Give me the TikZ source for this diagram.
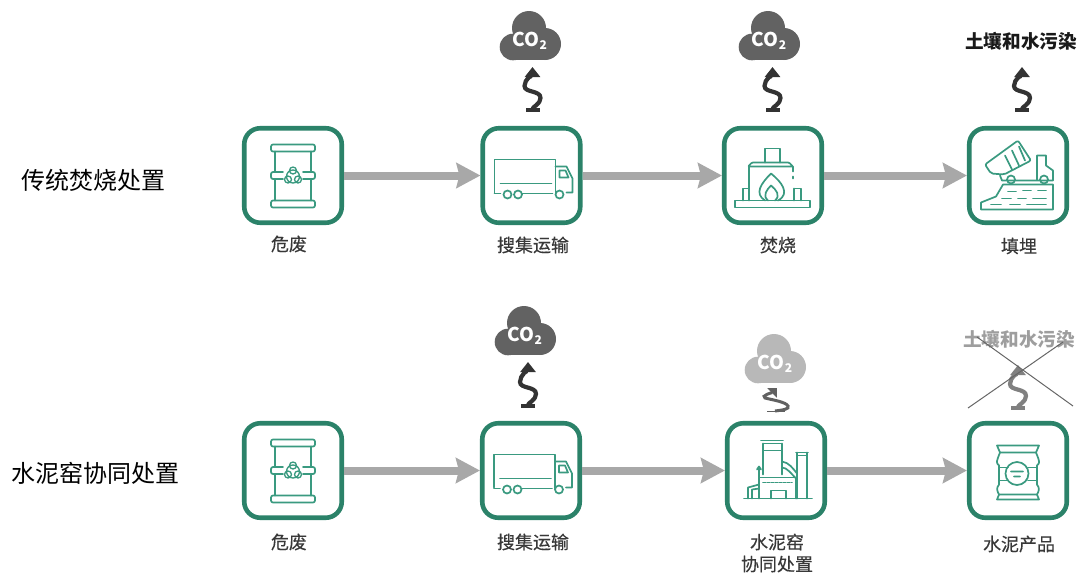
\documentclass[tikz,border=0pt]{standalone}
\usepackage{fontspec}
\setmainfont{Noto Sans CJK SC}
\newfontfamily\labelfont[FakeBold=0.35]{Noto Sans CJK SC}
\usetikzlibrary{arrows.meta}
\definecolor{boxgreen}{HTML}{2B8269}
\definecolor{icongreen}{HTML}{3A9A80}
\definecolor{flowgray}{HTML}{A8A8A8}
\definecolor{cloudgray}{HTML}{626262}
\definecolor{squiggray}{HTML}{333333}
\newcommand{\squiggle}[3][squig]{\draw [#1] (#2) .. controls +(0,-5) and +(0,6) .. ++(8,-14) .. controls +(0,-8) and +(0,7) .. ++(-16,-12) .. controls +(0,-7) and +(0,7) .. (#3);}
\tikzset{
	stepbox/.style={draw=boxgreen,line width=4.6pt,rounded corners=16pt,minimum width=97.5pt,minimum height=94.5pt,inner sep=0pt,fill=white},
	steplabel/.style={text=black!78,align=center,font=\labelfont\fontsize{18}{22}\selectfont},
	rowlabel/.style={text=black,font=\fontsize{24}{26}\selectfont},
	pollute/.style={font=\bfseries\fontsize{18.6}{20}\selectfont,text=black!90},
	flow/.style={draw=flowgray,line width=8pt,-{Stealth[length=24pt,width=25pt,inset=3pt]}},
	squig/.style={draw=squiggray,line width=4.2pt,{Bar[width=14pt,length=1.6pt]}-{Triangle[length=10pt,width=15pt]}},
	icon/.style={draw=icongreen,line width=1.7pt,line join=round,line cap=round,fill=none},
	cloud/.pic={
		\fill [pic actions] (-17,7) circle (13.3);
		\fill [pic actions] (-1,-12) circle (17);
		\fill [pic actions] (15,4) circle (16);
		\fill [pic actions] (-17,8) rectangle (15,20);
		\fill [pic actions] (-14,-6) rectangle (14,10);
		\node [text=white,font=\bfseries\fontsize{19}{20}\selectfont,inner sep=0pt] (-txt) at (0,1) {CO\raisebox{-2.5pt}{\fontsize{12}{12}\selectfont 2}};
	},
	drum/.pic={
		\draw [icon,rounded corners=2pt] (-22,-31) rectangle (22,-24);
		\draw [icon,rounded corners=2pt] (-22,25) rectangle (22,32);
		\draw [icon] (-18,-24) -- (-18,-3.5) (18,-24) -- (18,-3.5) (-18,3.5) -- (-18,25) (18,3.5) -- (18,25);
		\draw [icon,rounded corners=2pt] (-10,-3.5) -- (-22,-3.5) -- (-22,3.5) -- (-10,3.5) (10,-3.5) -- (22,-3.5) -- (22,3.5) -- (10,3.5);
		\draw [icon,line width=1.3pt] (0,-5) circle (3.5) (-5,4) circle (3.5) (5,4) circle (3.5) (0,1) circle (6.5);
	},
	truck/.pic={
		\draw [icon] (-37,17) -- (-37,-16) -- (24,-16) -- (24,18);
		\draw [icon] (-31,8) -- (20,8);
		\draw [icon] (-37,18) -- (-31,18) (-9,18) -- (21,18);
		\draw [icon] (24,-9) -- (35,-9) -- (41,3) -- (41,17) -- (35,17);
		\draw [icon] (28,-5) -- (34,-5) -- (37,2) -- (28,2) -- cycle;
		\draw [icon] (-24,19) circle (4) (-13.5,19) circle (4) (28,19) circle (4);
	},
	furnace/.pic={
		\draw [icon] (-8,-13) -- (-8,-27) -- (7,-27) -- (7,-13);
		\draw [icon,rounded corners=1pt] (-25,-9) -- (-21,-13) -- (16,-13) -- (20,-9) -- cycle;
		\draw [icon] (-24,-9) -- (-24,25) (20,-9) -- (20,-4) (20,1) -- (20,3);
		\draw [icon] (-38,25) rectangle (37,32);
		\draw [icon] (-30,25) -- (-30,13) -- (-25,13) (22,13) -- (28,13) -- (28,25) (21,25) -- (21,13);
		\draw [icon] (-8,25) .. controls (-19,18) and (-12,8) .. (-2,-2) .. controls (8,6) and (18,18) .. (5,25);
		\draw [icon] (-5,25) .. controls (-11,20) and (-6,14) .. (-2,10) .. controls (3,14) and (8,20) .. (2,25);
	},
	dumper/.pic={
		\draw [icon,rounded corners=2pt] (-33,-11) -- (0,-35) -- (13,-15) -- (-14,-1) -- (-27,-2) -- cycle;
		\draw [icon] (-13,-20) -- (-6,-6) (-6,-25) -- (1,-10) (1,-29) -- (7,-15);
		\draw [icon] (-18,0) -- (-16,5) -- (35,5) -- (35,-5) -- (28,-10) -- (28,-20) -- (19,-20) -- (19,4);
		\draw [icon] (-7,4) circle (4) (26,4) circle (4);
		\draw [icon] (-15,9) -- (35,9) -- (35,34) -- (-37,34) -- (-37,27) -- (-22,21) -- cycle;
		\draw [icon] (-10,16) -- (-2,16) (5,15) -- (13,15) (20,15) -- (28,15) (-16,23) -- (-7,23) (0,23) -- (8,23) (15,23) -- (28,23) (-27,29) -- (-17,29) (-8,29) -- (2,29) (9,29) -- (28,29);
	},
	kiln/.pic={
		\draw [icon] (-13,4) -- (-13,-27) (6,-27) -- (6,4) (-15,-30) -- (7,-30) (-13,-27) -- (6,-27) (-13,-20) -- (6,-20);
		\draw [icon] (20,-18) -- (32,-18) (21,-15) -- (31,-15) (21,-18) -- (21,28) (31,-18) -- (31,28);
		\draw [icon] (6,-9) .. controls (13,-8) and (17,-2) .. (21,3) (6,-3) .. controls (11,-3) and (15,3) .. (21,9);
		\draw [icon] (-17,28) -- (-17,7) -- (20,7) -- (20,28);
		\draw [icon,dash pattern=on 2.5pt off 1.5pt] (-13,12) -- (16,12);
		\draw [icon] (-5,28) -- (-5,20) -- (10,20) -- (10,28);
		\draw [icon] (-32,28) -- (36,28);
		\draw [icon] (-28,28) -- (-28,17) -- (-17,14) (-24,28) -- (-24,19) -- (-17,18);
		\draw [icon] (-17,7) -- (-17,-3) (-19,-1) -- (-17,-4) -- (-15,-1);
	},
	cementbag/.pic={
		\draw [icon] (-21,-25) -- (21,-25) (-21,-25) -- (-18,-18) -- (18,-18) -- (21,-25);
		\draw [icon] (-21,29) -- (21,29) (-21,29) -- (-19,24) -- (19,24) -- (21,29);
		\draw [icon] (-18,-18) .. controls (-22,-8) and (-22,-8) .. (-19,-5) (18,-18) .. controls (22,-8) and (22,-8) .. (19,-5);
		\draw [icon] (-19,-5) -- (-19,14) (19,-5) -- (19,14);
		\draw [icon] (-19,14) .. controls (-22,18) and (-21,20) .. (-19,24) (19,14) .. controls (22,18) and (21,20) .. (19,24);
		\draw [icon] (-19,-3) -- (-10,-3) (10,-3) -- (19,-3) (-19,10) -- (-10,10) (10,10) -- (19,10);
		\draw [icon] (-1,3) circle (11.5) (-7,1) -- (5,1) (-4,6) -- (2,6);
	}
}
\begin{document}
\begin{tikzpicture}[x=1pt,y=-1pt]
	\useasboundingbox (0,0) rectangle (1081,574);
	\node [rowlabel] (rowa) at (93.5,180) {传统焚烧处置};
	\node [rowlabel] (rowb) at (95,473) {水泥窑协同处置};
	% top row
	\node [stepbox] (a1) at (293,175.5) {};
	\node [stepbox] (a2) at (531.5,175.5) {};
	\node [stepbox] (a3) at (773,175.5) {};
	\node [stepbox] (a4) at (1018,175.5) {};
	\pic at (a1) {drum};
	\pic at (a2) {truck};
	\pic at (a3) {furnace};
	\pic at (a4) {dumper};
	\draw [flow] (a1) -- (a2);
	\draw [flow] (a2) -- (a3);
	\draw [flow] (a3) -- (a4);
	\node [steplabel] (la1) at (289,244) {危废};
	\node [steplabel] (la2) at (533,245) {搜集运输};
	\node [steplabel] (la3) at (778,245) {焚烧};
	\node [steplabel] (la4) at (1019,246) {填埋};
	\pic [fill=cloudgray] (ca2) at (530,40) {cloud};
	\pic [fill=cloudgray] (ca3) at (769,40) {cloud};
	\node [pollute] (pa4) at (1021,41) {土壤和水污染};
	\coordinate (sa2) at (532.5,112);
	\coordinate (ta2) at (532.5,67);
	\coordinate (sa3) at (772.5,112);
	\coordinate (ta3) at (772.5,67);
	\coordinate (sa4) at (1022,112);
	\coordinate (ta4) at (1022,67);
	\squiggle{sa2}{ta2}
	\squiggle{sa3}{ta3}
	\squiggle{sa4}{ta4}
	% bottom row
	\node [stepbox] (b1) at (293,470.5) {};
	\node [stepbox] (b2) at (531,470.5) {};
	\node [stepbox] (b3) at (776,470.5) {};
	\node [stepbox] (b4) at (1018,470.5) {};
	\pic at (b1) {drum};
	\pic at (b2) {truck};
	\pic at (b3) {kiln};
	\pic at (b4) {cementbag};
	\draw [flow] (b1) -- (b2);
	\draw [flow] (b2) -- (b3);
	\draw [flow] (b3) -- (b4);
	\node [steplabel] (lb1) at (289,542) {危废};
	\node [steplabel] (lb2) at (533,542) {搜集运输};
	\node [steplabel] (lb3) at (777,553) {水泥窑\\协同处置};
	\node [steplabel] (lb4) at (1019,544) {水泥产品};
	\pic [fill=cloudgray] (cb2) at (525,335) {cloud};
	\pic [fill=black!28] (cb3) at (775,363) {cloud};
	\node [pollute,text=black!38] (pb4) at (1019,339) {土壤和水污染};
	\coordinate (sb2) at (528,408);
	\coordinate (tb2) at (528,362);
	\coordinate (sb3) at (775,411);
	\coordinate (tb3) at (777,388);
	\coordinate (bb3a) at (767,411.5);
	\coordinate (bb3b) at (785,411.5);
	\coordinate (sb4) at (1018,410);
	\coordinate (tb4) at (1018,365);
	\squiggle{sb2}{tb2}
	\draw [draw=black!62,line width=1.6pt] (bb3a) -- (bb3b);
	\draw [draw=black!62,line width=3pt,-{Triangle[length=7pt,width=13pt]}] (sb3) .. controls +(8,-1) and +(2,3) .. ++(13,-5) .. controls +(-2,-4) and +(8,2) .. ++(-23,-8) .. controls +(-5,-2) and +(-4,4) .. (tb3);
	\squiggle[squig,draw=black!50]{sb4}{tb4}
	\coordinate (xa) at (968,408);
	\coordinate (xb) at (1063,342);
	\coordinate (xc) at (977,337);
	\coordinate (xd) at (1073,406);
	\draw [black!60,line width=1pt] (xa) -- (xb);
	\draw [black!60,line width=1pt] (xc) -- (xd);
\end{tikzpicture}
\end{document}
